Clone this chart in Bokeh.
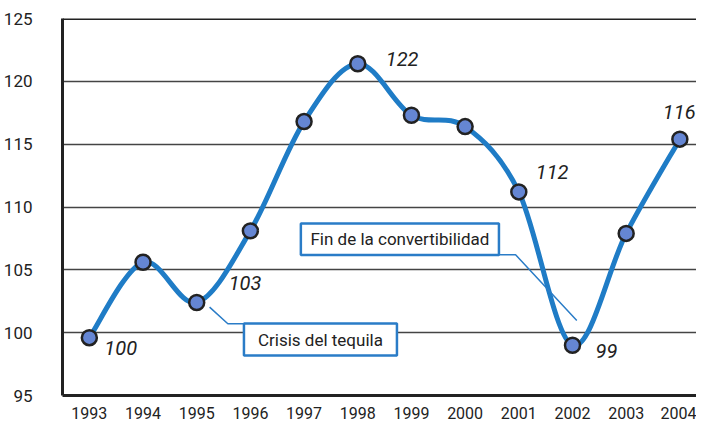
from bokeh.plotting import figure
from bokeh.models import Range1d, FixedTicker, Span, ColumnDataSource
from bokeh.core.properties import value
from bokeh.embed import file_html
from bokeh.resources import INLINE

# ---- data ----
years = [1993, 1994, 1995, 1996, 1997, 1998, 1999, 2000, 2001, 2002, 2003, 2004]
index_values = [99.6, 105.6, 102.4, 108.1, 116.8, 121.4, 117.3, 116.4, 111.2, 99.0, 107.9, 115.4]
label_years = [1993, 1995, 1998, 2001, 2002, 2004]
label_texts = ["100", "103", "122", "112", "99", "116"]
y_ticks = [95, 100, 105, 110, 115, 120, 125]
x_ticks = years
annotation_texts = ["Fin de la convertibilidad", "Crisis del tequila"]

# ---- styles / layout ----
FONT = "Roboto"
LINE_BLUE = "#1f7cc6"
BOX_BLUE = "#2a7cc7"
MARKER_FILL = "#6586d3"
DARK = "#222222"

p = figure(width=696, height=421, output_backend="svg", toolbar_location=None,
           x_range=Range1d(1992.5, 2004.31), y_range=Range1d(95, 125),
           min_border_left=61, min_border_right=0, min_border_top=18, min_border_bottom=26)
p.outline_line_color = None
p.background_fill_color = "white"

# axes
for ax in (p.xaxis, p.yaxis):
    ax.axis_line_color = DARK
    ax.axis_line_width = 3
    ax.major_tick_line_color = None
    ax.minor_tick_line_color = None
    ax.major_label_text_font = FONT
    ax.major_label_text_color = DARK
p.yaxis.ticker = FixedTicker(ticks=y_ticks)
p.xaxis.ticker = FixedTicker(ticks=x_ticks)
p.yaxis.major_label_text_font_size = "17px"
p.xaxis.major_label_text_font_size = "16px"
p.yaxis.major_label_standoff = 24
p.xaxis.major_label_standoff = 5

p.xgrid.grid_line_color = None
p.ygrid.ticker = FixedTicker(ticks=y_ticks[1:-1])
p.ygrid.grid_line_color = "#444444"
p.ygrid.grid_line_width = 1.3

p.add_layout(Span(location=y_ticks[-1], dimension="width", line_color=DARK, line_width=3))

# smooth curve (Catmull-Rom as cubic Bezier through the data points)
n = len(years)
x0, y0, x1, y1, cx0, cy0, cx1, cy1 = [], [], [], [], [], [], [], []
for i in range(n - 1):
    im = max(i - 1, 0)
    ip2 = min(i + 2, n - 1)
    x0.append(years[i]); y0.append(index_values[i])
    x1.append(years[i + 1]); y1.append(index_values[i + 1])
    cx0.append(years[i] + (years[i + 1] - years[im]) / 6.0)
    cy0.append(index_values[i] + (index_values[i + 1] - index_values[im]) / 6.0)
    cx1.append(years[i + 1] - (years[ip2] - years[i]) / 6.0)
    cy1.append(index_values[i + 1] - (index_values[ip2] - index_values[i]) / 6.0)
p.bezier(x0=x0, y0=y0, x1=x1, y1=y1, cx0=cx0, cy0=cy0, cx1=cx1, cy1=cy1,
         line_color=LINE_BLUE, line_width=5)

# annotation leader lines and boxes (data-space layout)
p.line(x=[1995.24, 1995.58, 1995.89], y=[102.03, 100.71, 100.71], line_color=BOX_BLUE, line_width=1.5)
p.line(x=[2000.63, 2000.94, 2002.08], y=[106.2, 106.2, 100.97], line_color=BOX_BLUE, line_width=1.5)

# markers
p.scatter(x=years, y=index_values, size=15, fill_color=MARKER_FILL, line_color=DARK, line_width=2.5)

p.quad(left=[1996.94, 1995.88], right=[2000.63, 1998.73], top=[108.69, 100.73], bottom=[106.19, 98.18],
       fill_color="white", line_color=BOX_BLUE, line_width=2.5)
p.text(x=[1998.785, 1997.305], y=[107.44, 99.455], text=annotation_texts,
       text_font=value(FONT), text_font_size="17px", text_color=DARK,
       text_align="center", text_baseline="middle")

# value labels
lab_vals = [index_values[years.index(y)] for y in label_years]
src = ColumnDataSource(dict(x=label_years, y=lab_vals, text=label_texts,
                            xo=[15, 32, 28, 17, 23, -17], yo=[10, -20, -5, -20, 6, -27]))
p.text(x="x", y="y", text="text", x_offset="xo", y_offset="yo", source=src,
       text_font=value(FONT), text_font_style="italic", text_font_size="20px",
       text_color=DARK, text_align="left", text_baseline="middle")

open("out.html", "w").write(file_html(p, INLINE))
